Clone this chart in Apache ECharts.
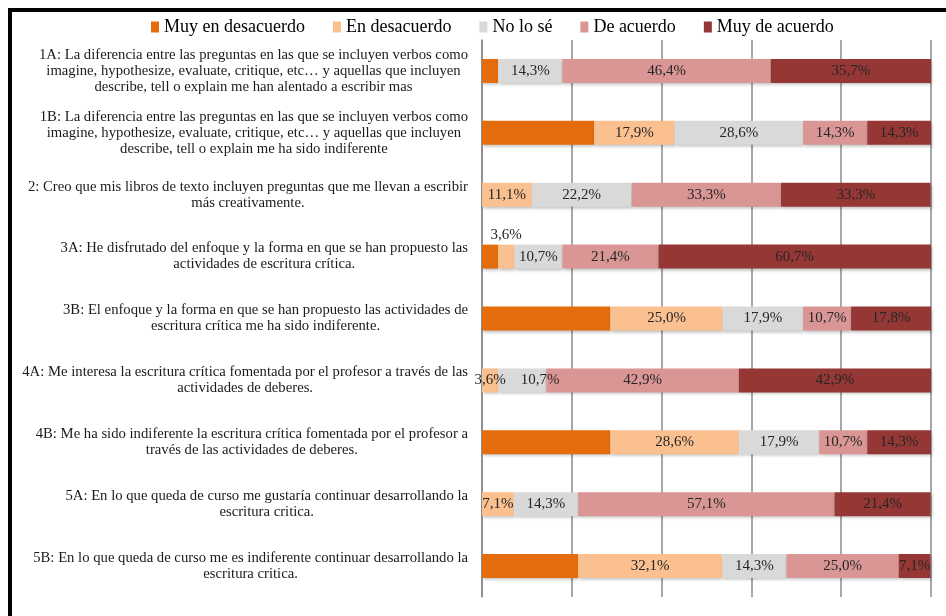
<!DOCTYPE html>
<html>
<head>
<meta charset="utf-8">
<script src="https://cdn.jsdelivr.net/npm/echarts@6/dist/echarts.min.js"></script>
<style>
  html, body { margin: 0; padding: 0; background: #fff; }
  #chart { width: 946px; height: 616px; }
  .frame {
    position: absolute; left: 8px; top: 8px; right: 0; bottom: 0;
    border-left: 4px solid #000; border-top: 4px solid #000;
    pointer-events: none;
  }
</style>
</head>
<body>
<div id="chart"></div>
<div class="frame"></div>
<script>
const categories = [
  '1A: La diferencia entre las preguntas en las que se incluyen verbos como\nimagine, hypothesize, evaluate, critique, etc… y aquellas que incluyen\ndescribe, tell o explain me han alentado a escribir mas',
  '1B: La diferencia entre las preguntas en las que se incluyen verbos como\nimagine, hypothesize, evaluate, critique, etc… y aquellas que incluyen\ndescribe, tell o explain me ha sido indiferente',
  '2: Creo que mis libros de texto incluyen preguntas que me llevan a escribir\nmás creativamente.',
  '3A: He disfrutado del enfoque y la forma en que se han propuesto las\nactividades de escritura crítica.',
  '3B: El enfoque y la forma en que se han propuesto las actividades de\nescritura crítica me ha sido indiferente.',
  '4A: Me interesa la escritura crítica fomentada por el profesor a través de las\nactividades de deberes.',
  '4B: Me ha sido indiferente la escritura crítica fomentada por el profesor a\ntravés de las actividades de deberes.',
  '5A: En lo que queda de curso me gustaría continuar desarrollando la\nescritura critica.',
  '5B: En lo que queda de curso me es indiferente continuar desarrollando la\nescritura critica.'
];
const seriesNames = ['Muy en desacuerdo', 'En desacuerdo', 'No lo sé', 'De acuerdo', 'Muy de acuerdo'];
const muyEnDesacuerdo = [3.6, 25.0, 0, 3.6, 28.6, 0, 28.6, 0, 21.4];
const enDesacuerdo    = [0, 17.9, 11.1, 3.6, 25.0, 3.6, 28.6, 7.1, 32.1];
const noLoSe          = [14.3, 28.6, 22.2, 10.7, 17.9, 10.7, 17.9, 14.3, 14.3];
const deAcuerdo       = [46.4, 14.3, 33.3, 21.4, 10.7, 42.9, 10.7, 57.1, 25.0];
const muyDeAcuerdo    = [35.7, 14.3, 33.3, 60.7, 17.8, 42.9, 14.3, 21.4, 7.1];

const values = [muyEnDesacuerdo, enDesacuerdo, noLoSe, deAcuerdo, muyDeAcuerdo];
const colors = ['#E46C0A', '#FAC090', '#D9D9D9', '#D99694', '#953735'];
const FONT = '"Liberation Serif", "DejaVu Serif", serif';

// small label tweaks where Excel moved a label off its segment
const labelTweaks = {
  '1-3': { position: 'top', distance: 2 },
  '2-5': { offset: [18, 0] }
};

const fmt = (v) => (v ? v.toFixed(1).replace('.', ',') + '%' : '');

const series = values.map((arr, s) => ({
  name: seriesNames[s],
  type: 'bar',
  stack: 'total',
  barWidth: 24,
  itemStyle: {
    color: colors[s],
    shadowColor: 'rgba(0,0,0,0.25)',
    shadowBlur: 3,
    shadowOffsetX: 1,
    shadowOffsetY: 2
  },
  label: {
    show: s > 0,
    position: 'inside',
    fontFamily: FONT,
    fontSize: 15,
    color: '#262626',
    formatter: (p) => fmt(p.value)
  },
  data: arr.map((v, i) => {
    const tweak = labelTweaks[s + '-' + i];
    return tweak ? { value: v, label: tweak } : v;
  })
}));

const chart = echarts.init(document.getElementById('chart'), null, { renderer: 'canvas' });
chart.setOption({
  animation: false,
  color: colors,
  legend: {
    top: 13,
    left: 146,
    icon: 'rect',
    itemWidth: 8,
    itemHeight: 11,
    itemGap: 28,
    textStyle: { fontFamily: FONT, fontSize: 18, color: '#000' },
    data: seriesNames
  },
  grid: { left: 482, right: 15, top: 40, bottom: 19 },
  xAxis: {
    type: 'value',
    min: 0,
    max: 100,
    interval: 20,
    axisLine: { show: false },
    axisTick: { show: false },
    axisLabel: { show: false },
    splitLine: { lineStyle: { color: '#8a8a8a', width: 1.5 } }
  },
  yAxis: {
    type: 'category',
    inverse: true,
    data: categories,
    axisLine: { lineStyle: { color: '#8a8a8a', width: 1.5 } },
    axisTick: { length: 4, lineStyle: { color: '#8a8a8a' } },
    axisLabel: {
      margin: 14,
      fontFamily: FONT,
      fontSize: 14.7,
      color: '#1a1a1a',
      formatter: (v) => v.split('\n').map((l) => '{c|' + l + '}').join('\n'),
      rich: {
        c: { align: 'center', fontFamily: FONT, fontSize: 14.7, lineHeight: 16, color: '#1a1a1a' }
      }
    }
  },
  series: series
});
</script>
</body>
</html>
